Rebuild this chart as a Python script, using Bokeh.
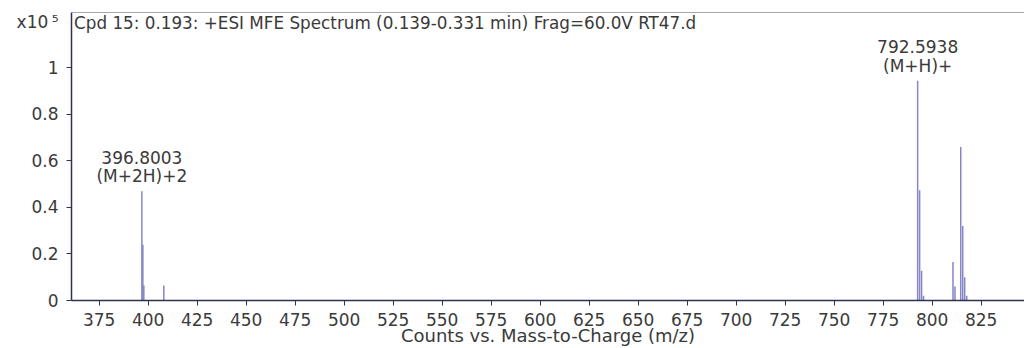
from bokeh.plotting import figure
from bokeh.models import Label, Span, FixedTicker, Range1d
from bokeh.embed import file_html
from bokeh.resources import INLINE

# Peak list: m/z and intensity (x10^5 counts)
mz = [396.80, 397.30, 397.80, 408.0,
      792.59, 793.60, 794.60, 795.60,
      810.62, 811.62, 814.58, 815.58, 816.58, 817.60]
intensity = [0.47, 0.24, 0.065, 0.065,
             0.945, 0.474, 0.128, 0.02,
             0.166, 0.06, 0.66, 0.32, 0.10, 0.02]

x_ticks = [375, 400, 425, 450, 475, 500, 525, 550, 575, 600, 625, 650,
           675, 700, 725, 750, 775, 800, 825]
y_ticks = [0, 0.2, 0.4, 0.6, 0.8, 1]
y_tick_text = ["0", "0.2", "0.4", "0.6", "0.8", "1"]
y_multiplier = "x10\u2009\u2075"

title_text = "Cpd 15: 0.193: +ESI MFE Spectrum (0.139-0.331 min) Frag=60.0V RT47.d"
peak_labels = [(396.8003, 0.47, "396.8003", "(M+2H)+2"),
               (792.5938, 0.945, "792.5938", "(M+H)+")]
x_label = "Counts vs. Mass-to-Charge (m/z)"

FONT = "DejaVu Sans"
TEXT = "#3a3a3a"
AXIS = "#2e3150"
PEAK = "#8585c8"

Y_TOP = 1.238
MULT_Y = Y_TOP - 0.042   # the multiplier sits beside the title row

p = figure(width=1024, height=348, output_backend="svg", toolbar_location=None,
           x_range=Range1d(360.9, 847.1), y_range=Range1d(0, Y_TOP),
           min_border_left=71, min_border_right=0, min_border_top=12,
           min_border_bottom=45)
p.outline_line_color = None
p.grid.visible = False
p.background_fill_color = "white"
p.border_fill_color = "white"

p.segment(x0=mz, y0=[0] * len(mz), x1=mz, y1=intensity,
          line_color=PEAK, line_width=1.5)

# frame top edge
p.add_layout(Span(location=Y_TOP, dimension="width", line_color="#555555",
                  line_width=1))

for ax in (p.xaxis[0], p.yaxis[0]):
    ax.axis_line_color = AXIS
    ax.axis_line_width = 1.5
    ax.major_tick_line_color = AXIS
    ax.minor_tick_line_color = None
    ax.major_tick_in = 0
    ax.major_tick_out = 5
    ax.major_label_text_font = FONT
    ax.major_label_text_font_size = "17px"
    ax.major_label_text_color = TEXT

p.xaxis.ticker = FixedTicker(ticks=x_ticks)
p.xaxis.major_label_standoff = 7

# y axis: labelled positions include the x10^5 multiplier at the top;
# tick marks are drawn only at the numeric ticks (as minor ticks)
p.yaxis.ticker = FixedTicker(ticks=y_ticks + [MULT_Y], minor_ticks=y_ticks)
overrides = {t: s for t, s in zip(y_ticks, y_tick_text)}
overrides[MULT_Y] = y_multiplier
p.yaxis.major_label_overrides = overrides
p.yaxis.major_tick_line_color = None
p.yaxis.minor_tick_line_color = AXIS
p.yaxis.minor_tick_line_width = 1
p.yaxis.minor_tick_in = 0
p.yaxis.minor_tick_out = 5
p.yaxis.major_label_standoff = 8

p.xaxis.axis_label = x_label
p.xaxis.axis_label_text_font = FONT
p.xaxis.axis_label_text_font_size = "18px"
p.xaxis.axis_label_text_font_style = "normal"
p.xaxis.axis_label_text_color = TEXT
p.xaxis.axis_label_standoff = -4

p.add_layout(Label(x=362.2, y=1.195, text=title_text, text_font=FONT,
                   text_font_size="16.8px", text_color=TEXT,
                   text_baseline="middle"))

for x, h, line1, line2 in peak_labels:
    p.add_layout(Label(x=x, y=h + 0.145, text=line1, text_font=FONT,
                       text_font_size="17px", text_color=TEXT,
                       text_align="center", text_baseline="middle"))
    p.add_layout(Label(x=x, y=h + 0.065, text=line2, text_font=FONT,
                       text_font_size="17px", text_color=TEXT,
                       text_align="center", text_baseline="middle"))

open("out.html", "w").write(file_html(p, INLINE))
